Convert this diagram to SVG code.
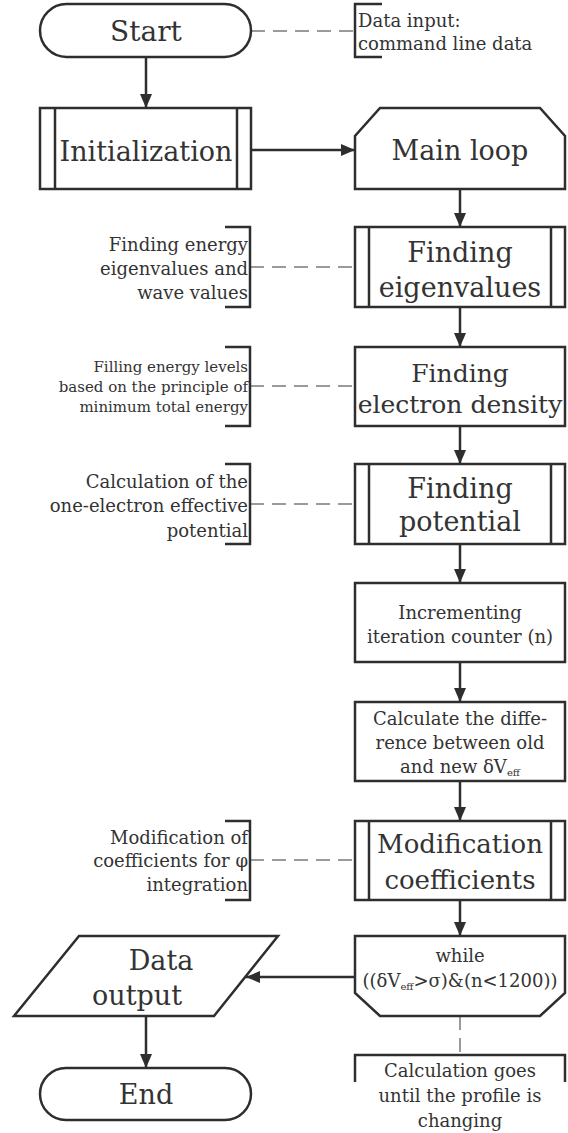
<svg xmlns="http://www.w3.org/2000/svg" width="568" height="1133" viewBox="0 0 568 1133">
<style>
.box{fill:#fff;stroke:#2e2e2e;stroke-width:2.5}
.ln{fill:none;stroke:#2e2e2e;stroke-width:2.5}
.arr{fill:none;stroke:#2e2e2e;stroke-width:2.5;marker-end:url(#ah)}
.dash{fill:none;stroke:#9a9a9a;stroke-width:2;stroke-dasharray:14 8}
text{font-family:"DejaVu Serif","Liberation Serif",serif;fill:#333}
.c{text-anchor:middle}
.r{text-anchor:end}
.b27{font-size:27px}
.b25{font-size:25px}
.b26{font-size:26px}
.m{font-size:18px}
.s{font-size:15px}
.sub{font-size:10px}
</style>
<defs>
<marker id="ah" markerUnits="userSpaceOnUse" markerWidth="14" markerHeight="12" refX="14" refY="6" orient="auto">
<path d="M0,0 L14,6 L0,12 z" fill="#2e2e2e"/>
</marker>
</defs>
<g id="connectors">
<path class="arr" d="M146,57 V108"/>
<path class="arr" d="M251,150 H355"/>
<path class="arr" d="M460,189 V227"/>
<path class="arr" d="M460,307 V347"/>
<path class="arr" d="M460,426 V464"/>
<path class="arr" d="M460,544 V583"/>
<path class="arr" d="M460,662 V702"/>
<path class="arr" d="M460,781 V821"/>
<path class="arr" d="M460,900 V936"/>
<path class="arr" d="M355,977 H246"/>
<path class="arr" d="M146,1016 V1068"/>
<path class="dash" d="M251,31 H355"/>
<path class="dash" d="M250,267 H355"/>
<path class="dash" d="M250,386 H355"/>
<path class="dash" d="M250,504 H355"/>
<path class="dash" d="M250,860 H355"/>
<path class="dash" d="M460,1016 V1055"/>
</g>
<g id="start">
<rect class="box" x="40" y="4" width="211" height="53" rx="26.5"/>
<text class="c" x="146" y="41" font-size="28">Start</text>
</g>
<g id="note-input">
<path class="ln" d="M382,4 H355 V57 H382"/>
<text class="m" x="358" y="27">Data input:</text>
<text class="m" x="358" y="50">command line data</text>
</g>
<g id="init">
<rect class="box" x="40" y="108" width="211" height="81"/>
<path class="ln" d="M55,108 V189 M237,108 V189"/>
<text class="c b27" x="146" y="161">Initialization</text>
</g>
<g id="mainloop">
<polygon class="box" points="380,108 540,108 565,136 565,189 355,189 355,136"/>
<text class="c b27" x="460" y="160">Main loop</text>
</g>
<g id="eigen">
<rect class="box" x="355" y="227" width="210" height="80"/>
<path class="ln" d="M369,227 V307 M551,227 V307"/>
<text class="c b27" x="460" y="262">Finding</text>
<text class="c b27" x="460" y="297">eigenvalues</text>
</g>
<g id="note-eigen">
<path class="ln" d="M225,227 H250 V307 H225"/>
<text class="r m" x="248" y="251">Finding energy</text>
<text class="r m" x="248" y="275">eigenvalues and</text>
<text class="r m" x="248" y="299">wave values</text>
</g>
<g id="density">
<rect class="box" x="355" y="347" width="210" height="79"/>
<text class="c b25" x="460" y="382">Finding</text>
<text class="c b25" x="460" y="413">electron density</text>
</g>
<g id="note-density">
<path class="ln" d="M225,347 H250 V426 H225"/>
<text class="r s" x="248" y="372">Filling energy levels</text>
<text class="r s" x="248" y="392">based on the principle of</text>
<text class="r s" x="248" y="412">minimum total energy</text>
</g>
<g id="potential">
<rect class="box" x="355" y="464" width="210" height="80"/>
<path class="ln" d="M369,464 V544 M551,464 V544"/>
<text class="c b27" x="460" y="498">Finding</text>
<text class="c b27" x="460" y="531">potential</text>
</g>
<g id="note-potential">
<path class="ln" d="M225,464 H250 V544 H225"/>
<text class="r m" x="248" y="488">Calculation of the</text>
<text class="r m" x="248" y="512">one-electron effective</text>
<text class="r m" x="248" y="537">potential</text>
</g>
<g id="increment">
<rect class="box" x="355" y="583" width="210" height="79"/>
<text class="c m" x="460" y="619">Incrementing</text>
<text class="c m" x="460" y="643">iteration counter (n)</text>
</g>
<g id="difference">
<rect class="box" x="355" y="702" width="210" height="79"/>
<text class="c m" x="460" y="725">Calculate the diffe-</text>
<text class="c m" x="460" y="749">rence between old</text>
<text class="c m" x="460" y="773">and new δV<tspan class="sub" dy="3">eff</tspan></text>
</g>
<g id="modification">
<rect class="box" x="355" y="821" width="210" height="79"/>
<path class="ln" d="M369,821 V900 M551,821 V900"/>
<text class="c b26" x="460" y="853">Modification</text>
<text class="c b26" x="460" y="889">coefficients</text>
</g>
<g id="note-modification">
<path class="ln" d="M225,821 H250 V900 H225"/>
<text class="r m" x="248" y="844">Modification of</text>
<text class="r m" x="248" y="867">coefficients for φ</text>
<text class="r m" x="248" y="891">integration</text>
</g>
<g id="while">
<polygon class="box" points="355,936 565,936 565,993 540,1016 380,1016 355,993"/>
<text class="c m" x="460" y="962">while</text>
<text class="c m" x="460" y="987">((δV<tspan class="sub" dy="3">eff</tspan><tspan dy="-3">&gt;σ)&amp;(n&lt;1200))</tspan></text>
</g>
<g id="note-while">
<path class="ln" d="M355,1082 V1055 H565 V1082"/>
<text class="c m" x="460" y="1077">Calculation goes</text>
<text class="c m" x="460" y="1102">until the profile is</text>
<text class="c m" x="460" y="1127">changing</text>
</g>
<g id="output">
<polygon class="box" points="79,936 278,936 214,1016 14,1016"/>
<text class="b27" x="161" y="970" text-anchor="middle">Data</text>
<text class="b27" x="137" y="1005" text-anchor="middle">output</text>
</g>
<g id="end">
<rect class="box" x="40" y="1068" width="211" height="52" rx="26"/>
<text class="c b27" x="146" y="1104">End</text>
</g>
</svg>
